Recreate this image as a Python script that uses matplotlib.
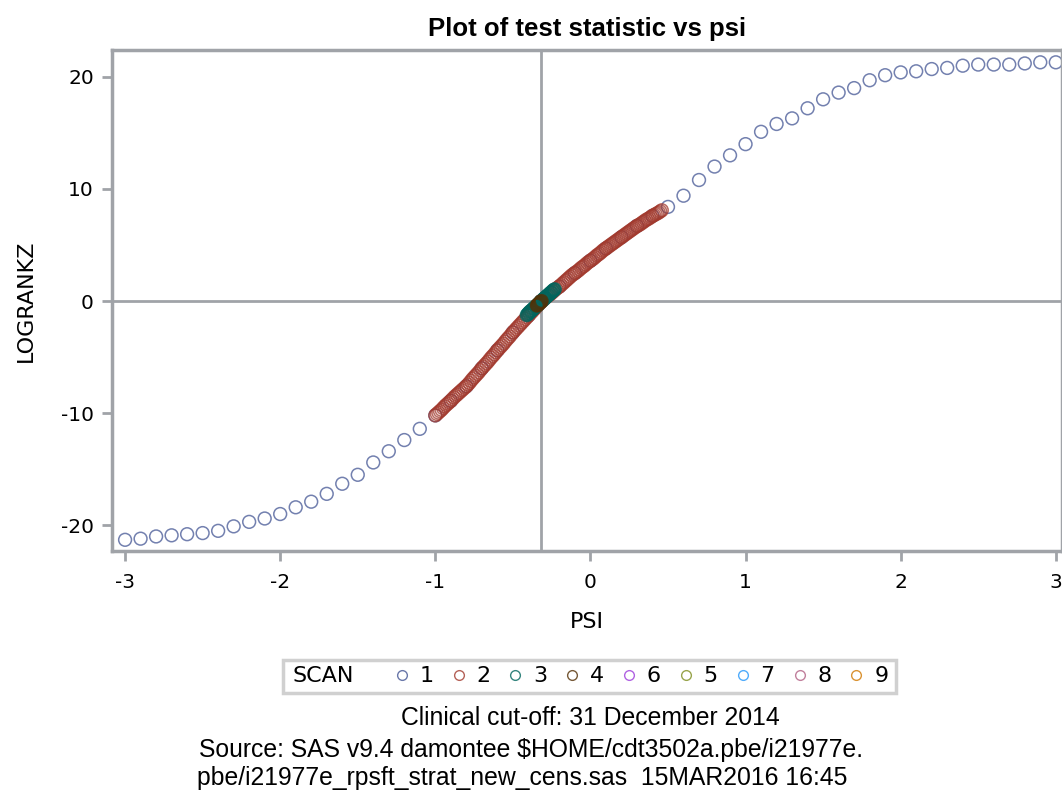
import numpy as np
import matplotlib
matplotlib.use('Agg')
import matplotlib.pyplot as plt
from matplotlib.lines import Line2D
from matplotlib.patches import Rectangle

plt.rcParams['axes.unicode_minus'] = False

# ---- data ----
# SCAN 1: coarse grid, psi -3..3 step 0.1
psi_1 = np.round(np.arange(-3.0, 3.0001, 0.1), 2)
lrz_1 = [-21.3, -21.2, -21.0, -20.9, -20.8, -20.7, -20.5, -20.1, -19.7, -19.4,
         -19.0, -18.4, -17.9, -17.2, -16.3, -15.5, -14.4, -13.4, -12.4, -11.4,
         -10.2, -8.9, -7.6, -6.0, -4.4, -2.8, -1.3, 0.2, 1.3, 2.5,
         3.6, 4.7, 5.7, 6.7, 7.6, 8.4, 9.4, 10.8, 12.0, 13.0,
         14.0, 15.1, 15.8, 16.3, 17.2, 18.0, 18.6, 19.0, 19.7, 20.15,
         20.4, 20.5, 20.7, 20.8, 21.0, 21.1, 21.1, 21.1, 21.2, 21.3,
         21.3]

# SCAN 2: fine grid, psi -1.00..0.46 step 0.01
psi_2 = np.round(np.arange(-1.0, 0.4601, 0.01), 3)
lrz_2 = [-10.2, -10.07, -9.95, -9.82, -9.7, -9.55, -9.4, -9.27, -9.15, -9.02,
         -8.9, -8.75, -8.6, -8.47, -8.35, -8.22, -8.1, -7.97, -7.85, -7.72,
         -7.6, -7.45, -7.3, -7.12, -6.95, -6.8, -6.65, -6.5, -6.35, -6.17,
         -6.0, -5.85, -5.7, -5.55, -5.4, -5.22, -5.05, -4.9, -4.75, -4.57,
         -4.4, -4.25, -4.1, -3.95, -3.8, -3.62, -3.45, -3.3, -3.15, -2.97,
         -2.8, -2.65, -2.5, -2.35, -2.2, -2.05, -1.9, -1.75, -1.6, -1.45,
         -1.3, -1.15, -1.0, -0.85, -0.7, -0.55, -0.4, -0.25, -0.1, 0.02,
         0.15, 0.27, 0.4, 0.5, 0.6, 0.72, 0.85, 0.97, 1.1, 1.2,
         1.3, 1.42, 1.55, 1.67, 1.8, 1.92, 2.05, 2.17, 2.3, 2.4,
         2.5, 2.6, 2.7, 2.82, 2.95, 3.05, 3.15, 3.27, 3.4, 3.5,
         3.6, 3.7, 3.8, 3.92, 4.05, 4.15, 4.25, 4.37, 4.5, 4.6,
         4.7, 4.8, 4.9, 5.0, 5.1, 5.2, 5.3, 5.4, 5.5, 5.6,
         5.7, 5.8, 5.9, 6.0, 6.1, 6.2, 6.3, 6.4, 6.5, 6.6,
         6.7, 6.77, 6.85, 6.95, 7.05, 7.15, 7.25, 7.32, 7.4, 7.5,
         7.6, 7.67, 7.75, 7.82, 7.9, 8.0, 8.1]

# SCAN 3: psi -0.41..-0.23 step 0.005
psi_3 = np.round(np.arange(-0.41, -0.2299, 0.005), 3)
lrz_3 = [-1.25, -1.18, -1.1, -1.03, -0.95, -0.9, -0.85, -0.78, -0.7, -0.65,
         -0.6, -0.52, -0.45, -0.4, -0.35, -0.28, -0.2, -0.12, -0.05, 0.0,
         0.05, 0.12, 0.2, 0.25, 0.3, 0.38, 0.45, 0.5, 0.55, 0.62,
         0.7, 0.75, 0.8, 0.88, 0.95, 1.0, 1.05]

# SCAN 4 and later: tiny ranges around the root
psi_4 = [-0.345, -0.34, -0.335, -0.33, -0.325, -0.32, -0.315]
lrz_4 = [-0.40, -0.33, -0.27, -0.20, -0.13, -0.07, 0.0]
psi_6 = [-0.318, -0.317]
lrz_6 = [-0.03, -0.02]
psi_5 = [-0.317, -0.316]
lrz_5 = [-0.02, -0.01]
psi_7 = [-0.3165, -0.316]
lrz_7 = [-0.015, -0.01]
psi_8 = [-0.316, -0.3158]
lrz_8 = [-0.01, -0.005]
psi_9 = [-0.3158, -0.3157]
lrz_9 = [-0.005, 0.0]

scan_labels = ['1', '2', '3', '4', '6', '5', '7', '8', '9']
scan_colors = ['#445694', '#A23A2E', '#01665E', '#543005', '#9D3CDB',
               '#7F8E1F', '#2597FA', '#B26084', '#D17800']
scan_data = [(psi_1, lrz_1), (psi_2, lrz_2), (psi_3, lrz_3), (psi_4, lrz_4),
             (psi_6, lrz_6), (psi_5, lrz_5), (psi_7, lrz_7), (psi_8, lrz_8),
             (psi_9, lrz_9)]

ref_psi = -0.316

grey = '#A0A3A8'
arial = ['Liberation Sans', 'DejaVu Sans']

fig = plt.figure(figsize=(10.62, 7.91), dpi=100)
ax = fig.add_axes([0.1055, 0.3034, 0.8945, 0.6334])

ax.axvline(ref_psi, color=grey, lw=2, zorder=1)
ax.axhline(0, color=grey, lw=2, zorder=1)

# draw the late (hidden) scans first so the main bands sit on top
order = [4, 5, 6, 7, 8, 0, 1, 2, 3]
for i in order:
    x, y = scan_data[i]
    ax.scatter(x, y, s=85, facecolors='none', edgecolors=scan_colors[i],
               linewidths=1.1, alpha=0.75, zorder=2 + (i if i < 4 else 0))

ax.set_xlim(-3.084, 3.04)
ax.set_ylim(-22.3, 22.4)
ax.set_xticks([-3, -2, -1, 0, 1, 2, 3])
ax.set_yticks([-20, -10, 0, 10, 20])
for s in ax.spines.values():
    s.set_color(grey)
    s.set_linewidth(2.5)
ax.tick_params(direction='out', length=7, width=2, color=grey, labelsize=14.5)
ax.tick_params(axis='x', pad=9)
ax.tick_params(axis='y', pad=6)
ax.set_xlabel('PSI', fontsize=16, labelpad=14)
ax.set_ylabel('LOGRANKZ', fontsize=16, labelpad=18)
ax.set_title('Plot of test statistic vs psi', fontsize=18.5, fontweight='bold',
             family=arial, pad=10)

# legend row, with "SCAN" text and a frame drawn around everything
handles = [Line2D([], [], ls='none', marker='o', markersize=7,
                  markerfacecolor='none', markeredgecolor=c,
                  markeredgewidth=1, alpha=0.8) for c in scan_colors]
leg_y = 1 - 676.5 / 791
leg = fig.legend(handles, scan_labels, loc='center left',
                 bbox_to_anchor=(393 / 1062, leg_y), ncol=9, frameon=False,
                 fontsize=16, handlelength=0.6, handletextpad=0.5,
                 columnspacing=0.82, borderpad=0.1, borderaxespad=0)
fig.text(293 / 1062, leg_y, 'SCAN', ha='left', va='center', fontsize=16)
fig.canvas.draw()
bb = leg.get_window_extent()
x0 = 283 / 1062
x1 = (bb.x1 + 6) / 1062
y0 = 1 - 693 / 791
y1 = 1 - 660 / 791
fig.patches.append(Rectangle((x0, y0), x1 - x0, y1 - y0, transform=fig.transFigure,
                             facecolor='none', edgecolor='#D0D0D0', lw=2.5))

fig.text(0.556, 1 - 718 / 791, 'Clinical cut-off: 31 December 2014', ha='center',
         va='center', fontsize=17.8, family=arial)
fig.text(199 / 1062, 1 - 750 / 791, 'Source: SAS v9.4 damontee $HOME/cdt3502a.pbe/i21977e.',
         ha='left', va='center', fontsize=17.8, family=arial)
fig.text(197 / 1062, 1 - 778 / 791, 'pbe/i21977e_rpsft_strat_new_cens.sas  15MAR2016 16:45',
         ha='left', va='center', fontsize=17.8, family=arial)

fig.savefig('out.png', dpi=100)
